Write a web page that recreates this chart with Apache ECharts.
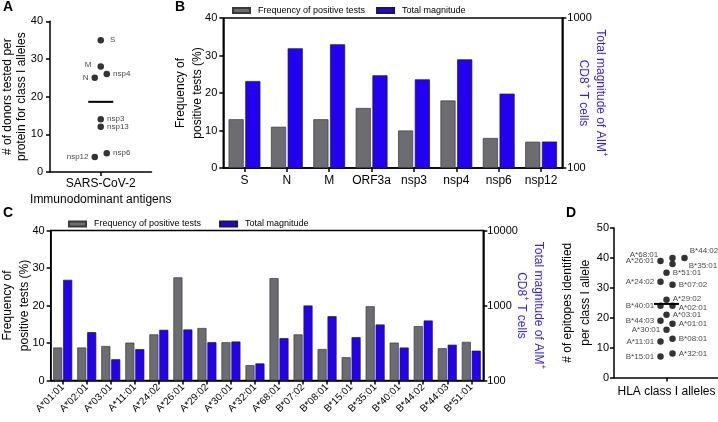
<!DOCTYPE html>
<html><head><meta charset="utf-8">
<script src="https://cdn.jsdelivr.net/npm/echarts@6/dist/echarts.min.js"></script>
<style>html,body{margin:0;padding:0;background:#fff}#c{width:718px;height:422px}</style>
</head><body><div id="c"></div>
<script>
// ---------- Panel A: donors tested per antigen ----------
const aAntigens = ['S', 'M', 'nsp4', 'N', 'nsp3', 'nsp13', 'nsp6', 'nsp12'];
const aDonors   = [35, 28, 26, 25, 14, 12, 5, 4];
const aLane     = [0, 0, 1, -1, 0, 0, 1, -1];           // column-scatter jitter lane
const aSide     = ['right', 'left', 'right', 'left', 'right', 'right', 'right', 'left'];

// ---------- Panel B: per protein ----------
const bProteins = ['S', 'N', 'M', 'ORF3a', 'nsp3', 'nsp4', 'nsp6', 'nsp12'];
const bFreq     = [13, 11, 13, 16, 10, 18, 8, 7];
const bMag      = [380, 628, 668, 415, 390, 530, 313, 150];

// ---------- Panel C: per HLA allele ----------
const cAlleles = ['A*01:01', 'A*02:01', 'A*03:01', 'A*11:01', 'A*24:02', 'A*26:01', 'A*29:02', 'A*30:01', 'A*32:01',
                  'A*68:01', 'B*07:02', 'B*08:01', 'B*15:01', 'B*35:01', 'B*40:01', 'B*44:02', 'B*44:03', 'B*51:01'];
const cFreq = [8.8, 8.8, 9.2, 10.1, 12.3, 27.5, 14.0, 10.2, 4.1, 27.3, 12.3, 8.4, 6.2, 19.8, 10.1, 14.5, 8.6, 10.3];
const cMag  = [2200, 441, 192, 262, 474, 479, 324, 331, 169, 367, 1000, 720, 378, 558, 275, 631, 300, 250];

// ---------- Panel D: epitopes per allele ----------
const dAlleles  = ['A*68:01', 'A*26:01', 'B*44:02', 'B*35:01', 'B*51:01', 'A*24:02', 'B*07:02', 'A*29:02', 'B*40:01',
                   'A*02:01', 'A*03:01', 'B*44:03', 'A*01:01', 'A*30:01', 'B*08:01', 'A*11:01', 'A*32:01', 'B*15:01'];
const dEpitopes = [40, 39, 40, 38, 35, 32, 31, 26, 24, 24, 21, 19, 18, 16, 13, 12, 8, 7];
const dLane     = [1, -1, 3, 1, 0, -1, 1, 0, -1, 1, 0, -1, 1, 0, 1, -1, 1, -1];
const dSide     = ['left', 'left', 'right', 'right', 'right', 'left', 'right', 'right', 'left',
                   'right', 'right', 'left', 'right', 'left', 'right', 'left', 'right', 'left'];

const seriesNames = ['Frequency of positive tests', 'Total magnitude'];

// ---------- styling ----------
const FONT = '"Liberation Sans", Arial, sans-serif';
const GRAY = '#6d6d71';
const BLUE = '#2400f2';
const TBLUE = '#2f1fff';
const LANE_PX = 6;
const GA = {left: 50, top: 21.3, width: 101.5, height: 150.7};
const GB = {left: 223.3, top: 18, width: 339, height: 150};
const GC = {left: 50.7, top: 230.5, width: 432.6, height: 150};
const GD = {left: 614, top: 228, width: 105, height: 149.5};

const aLabelExtra = {S: {distance: 6}, M: {distance: 6, offset: [0, -2]}};
const dLabelExtra = {
  'A*68:01': {distance: 11, offset: [0, -3]},
  'B*44:02': {distance: 2, offset: [0, -7]},
  'B*35:01': {distance: 13, offset: [0, 2]},
  'A*02:01': {offset: [0, 2]},
  'A*29:02': {offset: [0, -1]}
};

const line = {show: true, onZero: false, lineStyle: {color: '#000', width: 1.5}};
const tick = {show: true, length: 4, lineStyle: {color: '#000', width: 1.5}};
const tickLbl = {color: '#000', fontSize: 11, fontFamily: FONT};
const mean = arr => arr.reduce((s, v) => s + v, 0) / arr.length;

function meanSeries(xi, yi, m) {
  return {
    type: 'custom', xAxisIndex: xi, yAxisIndex: yi, data: [[0, m]], z: 4, silent: true,
    renderItem(params, api) {
      const p = api.coord([api.value(0), api.value(1)]);
      return {type: 'line', shape: {x1: p[0] - 12.5, y1: p[1], x2: p[0] + 12.5, y2: p[1]},
              style: {stroke: '#000', lineWidth: 2}};
    }
  };
}
function scatterData(names, vals, lanes, sides, extra) {
  return names.map((n, i) => ({
    name: n, value: [lanes[i] * LANE_PX, vals[i]],
    label: Object.assign({position: sides[i]}, extra[n] || {})
  }));
}
const scatterBase = {
  type: 'scatter', symbol: 'circle', symbolSize: 6.5, itemStyle: {color: '#000'}, z: 5,
  label: {show: true, formatter: p => p.name, fontSize: 8, color: '#111', fontFamily: FONT, distance: 3}
};
const supRich = {
  n: {fontSize: 12, color: TBLUE, fontFamily: FONT, lineHeight: 17},
  s: {fontSize: 8, color: TBLUE, fontFamily: FONT, verticalAlign: 'top', lineHeight: 17, padding: [0, 0, 6, 0]}
};
const magName = '{n|Total magnitude of AIM}{s|+}\n{n|CD8}{s|+}{n| T cells}';
const nm = {nameLocation: 'middle', nameMoveOverlap: false};
const gridBase = {outerBoundsMode: 'none', containLabel: false};

const option = {
  animation: false,
  backgroundColor: '#fff',
  textStyle: {fontFamily: FONT},
  title: [
    {text: 'A', left: 3, top: 0},
    {text: 'B', left: 175, top: 0},
    {text: 'C', left: 3, top: 206},
    {text: 'D', left: 566, top: 206}
  ].map(t => Object.assign(t, {padding: 0, textStyle: {fontSize: 14, fontWeight: 'bold', color: '#000', fontFamily: FONT}})),
  legend: [
    {left: 232, top: 6, padding: 0, itemWidth: 17, itemHeight: 5, itemGap: 11, icon: 'rect',
     textStyle: {fontSize: 9, color: '#000', fontFamily: FONT, padding: [0, 0, 0, 3]}, data: seriesNames},
    {left: 68, top: 219.5, padding: 0, itemWidth: 17, itemHeight: 5, itemGap: 18, icon: 'rect',
     textStyle: {fontSize: 9, color: '#000', fontFamily: FONT, padding: [0, 0, 0, 3]}, data: seriesNames}
  ],
  grid: [
    Object.assign({}, gridBase, GA),
    Object.assign({show: true, borderColor: '#000', borderWidth: 1.5}, gridBase, GB),
    Object.assign({show: true, borderColor: '#000', borderWidth: 1.5}, gridBase, GC),
    Object.assign({}, gridBase, GD)
  ],
  xAxis: [
    Object.assign({gridIndex: 0, type: 'category', data: ['SARS-CoV-2'], axisLine: line,
     axisTick: Object.assign({alignWithLabel: true}, tick),
     axisLabel: {color: '#000', fontSize: 12, fontFamily: FONT, margin: 6},
     name: 'Immunodominant antigens', nameGap: 22,
     nameTextStyle: {color: '#000', fontSize: 12, fontFamily: FONT}}, nm),
    {gridIndex: 0, type: 'value', min: -GA.width / 2, max: GA.width / 2, show: false},
    {gridIndex: 1, type: 'category', data: bProteins, axisLine: line, axisTick: Object.assign({alignWithLabel: true}, tick),
     axisLabel: {color: '#000', fontSize: 12, fontFamily: FONT, margin: 7, interval: 0}},
    {gridIndex: 2, type: 'category', data: cAlleles, axisLine: line, axisTick: Object.assign({alignWithLabel: true}, tick),
     axisLabel: {color: '#000', fontSize: 10, fontFamily: FONT, margin: 5, rotate: 45, interval: 0}},
    {gridIndex: 3, type: 'category', data: ['HLA class I alleles'], axisLine: line, axisTick: Object.assign({alignWithLabel: true}, tick),
     axisLabel: {color: '#000', fontSize: 12, fontFamily: FONT, margin: 8}},
    {gridIndex: 3, type: 'value', min: -GD.width / 2, max: GD.width / 2, show: false}
  ],
  yAxis: [
    Object.assign({gridIndex: 0, type: 'value', min: 0, max: 40, interval: 10, axisLine: line, axisTick: tick, splitLine: {show: false},
     axisLabel: Object.assign({margin: 7}, tickLbl),
     name: '# of donors tested per\nprotein for class I alleles', nameGap: 21,
     nameTextStyle: {color: '#000', fontSize: 12, lineHeight: 14, fontFamily: FONT}}, nm),
    Object.assign({gridIndex: 1, type: 'value', min: 0, max: 40, interval: 10, axisLine: line, axisTick: tick, splitLine: {show: false},
     axisLabel: Object.assign({margin: 6}, tickLbl),
     name: 'Frequency of\npositive tests (%)', nameGap: 17,
     nameTextStyle: {color: '#000', fontSize: 12, lineHeight: 17, fontFamily: FONT}}, nm),
    Object.assign({gridIndex: 1, type: 'log', min: 100, max: 1000, logBase: 10, position: 'right', axisLine: line, axisTick: tick,
     splitLine: {show: false}, minorTick: {show: false},
     axisLabel: Object.assign({margin: 5, formatter: v => String(Math.round(v))}, tickLbl),
     name: magName, nameGap: 13, nameRotate: -90,
     nameTextStyle: {color: TBLUE, fontSize: 12, lineHeight: 17, fontFamily: FONT, rich: supRich}}, nm),
    Object.assign({gridIndex: 2, type: 'value', min: 0, max: 40, interval: 10, axisLine: line, axisTick: tick, splitLine: {show: false},
     axisLabel: Object.assign({margin: 6}, tickLbl),
     name: 'Frequency of\npositive tests (%)', nameGap: 18,
     nameTextStyle: {color: '#000', fontSize: 12, lineHeight: 17, fontFamily: FONT}}, nm),
    Object.assign({gridIndex: 2, type: 'log', min: 100, max: 10000, logBase: 10, position: 'right', axisLine: line, axisTick: tick,
     splitLine: {show: false}, minorTick: {show: false},
     axisLabel: Object.assign({margin: 4, formatter: v => String(Math.round(v))}, tickLbl),
     name: magName, nameGap: 30, nameRotate: -90,
     nameTextStyle: {color: TBLUE, fontSize: 12, lineHeight: 17, fontFamily: FONT, rich: supRich}}, nm),
    Object.assign({gridIndex: 3, type: 'value', min: 0, max: 50, interval: 10, axisLine: line, axisTick: tick, splitLine: {show: false},
     axisLabel: Object.assign({margin: 5}, tickLbl),
     name: '# of epitopes identified\nper class I allele', nameGap: 19,
     nameTextStyle: {color: '#000', fontSize: 12, lineHeight: 18, fontFamily: FONT}}, nm)
  ],
  series: [
    Object.assign({}, scatterBase, {xAxisIndex: 1, yAxisIndex: 0,
      data: scatterData(aAntigens, aDonors, aLane, aSide, aLabelExtra)}),
    meanSeries(1, 0, mean(aDonors)),
    {type: 'bar', name: seriesNames[0], xAxisIndex: 2, yAxisIndex: 1, data: bFreq, barGap: '11%', barCategoryGap: '25%',
     itemStyle: {color: GRAY, borderColor: '#3a3a3a', borderWidth: 0.7}},
    {type: 'bar', name: seriesNames[1], xAxisIndex: 2, yAxisIndex: 2, data: bMag, clip: true,
     itemStyle: {color: BLUE, borderColor: '#1a1a40', borderWidth: 0.7}},
    {type: 'bar', name: seriesNames[0], xAxisIndex: 3, yAxisIndex: 3, data: cFreq, barGap: '10%', barCategoryGap: '21%',
     itemStyle: {color: GRAY, borderColor: '#3a3a3a', borderWidth: 0.7}},
    {type: 'bar', name: seriesNames[1], xAxisIndex: 3, yAxisIndex: 4, data: cMag, clip: true,
     itemStyle: {color: BLUE, borderColor: '#1a1a40', borderWidth: 0.7}},
    Object.assign({}, scatterBase, {xAxisIndex: 5, yAxisIndex: 5,
      data: scatterData(dAlleles, dEpitopes, dLane, dSide, dLabelExtra)}),
    meanSeries(5, 5, mean(dEpitopes))
  ]
};
const chart = echarts.init(document.getElementById('c'));
chart.setOption(option);
</script>
</body></html>
